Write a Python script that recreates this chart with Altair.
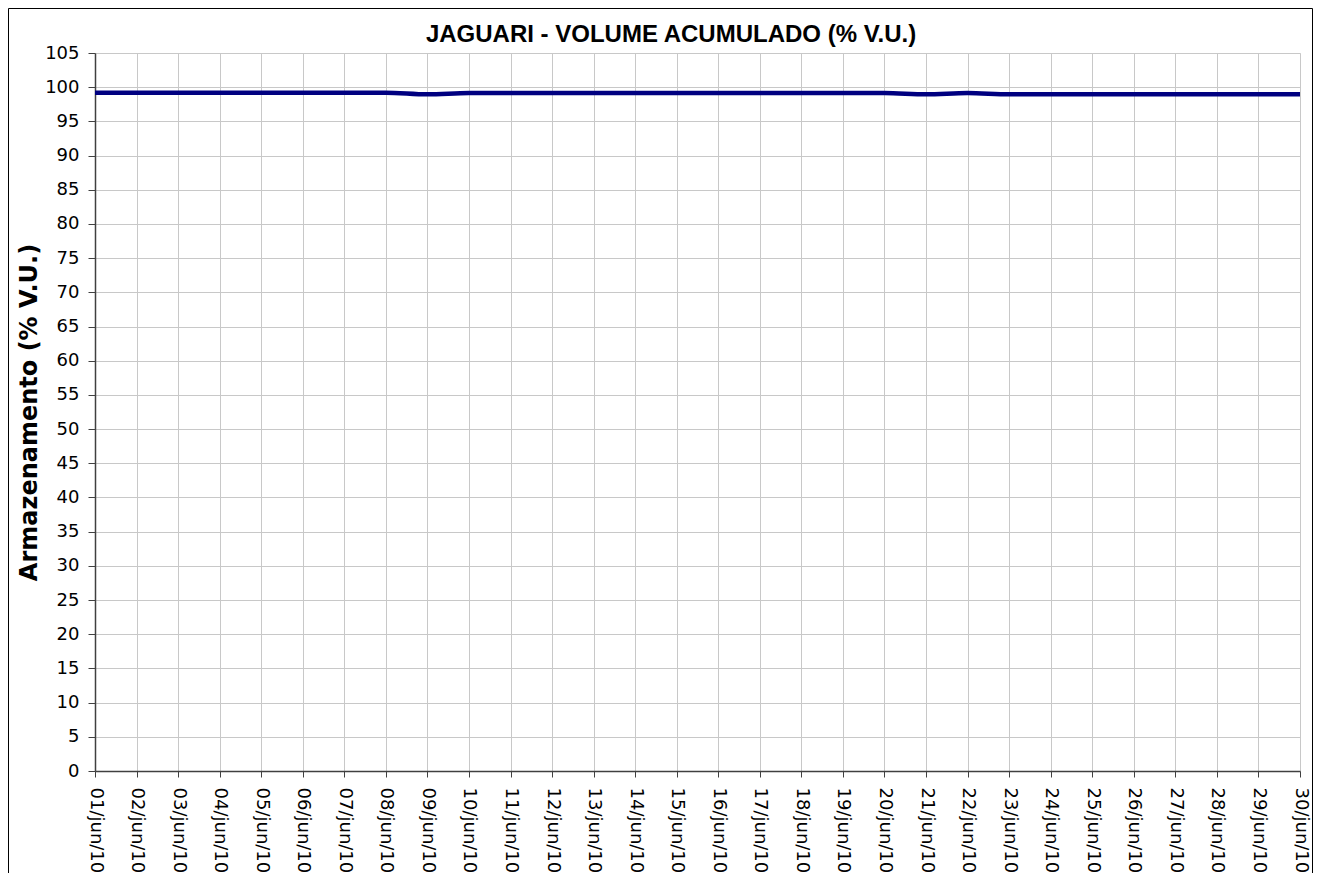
import altair as alt
import pandas as pd

days = [f"{d:02d}/jun/10" for d in range(1, 31)]
volume = [99.2, 99.2, 99.2, 99.2, 99.2, 99.2, 99.2, 99.2, 98.95, 99.15,
          99.15, 99.15, 99.15, 99.15, 99.15, 99.15, 99.15, 99.15, 99.15, 99.15,
          98.95, 99.15, 98.95, 98.95, 98.95, 98.95, 98.95, 98.95, 98.95, 98.95]
y_ticks = list(range(0, 106, 5))
title_text = "JAGUARI - VOLUME ACUMULADO (% V.U.)"

df = pd.DataFrame({"dia": days, "vol": volume})
one = pd.DataFrame({"t": [title_text]})

W, H = 1205, 718

line = alt.Chart(df).mark_line(color="#000080", strokeWidth=4.5, interpolate="monotone").encode(
    x=alt.X("dia:O", sort=days,
            scale=alt.Scale(type="point", padding=0),
            axis=alt.Axis(title=None, labelAngle=90, labelAlign="left", labelBaseline="middle",
                          labelPadding=10, tickSize=6, grid=True, gridColor="#c8c8c8",
                          domainColor="#404040", domainWidth=1.5, tickColor="#404040",
                          labelFont="DejaVu Sans", labelFontSize=18, labelColor="#000000")),
    y=alt.Y("vol:Q",
            scale=alt.Scale(domain=[0, 105], nice=False, zero=True),
            axis=alt.Axis(values=y_ticks, title="Armazenamento (% V.U.)",
                          titleFont="DejaVu Sans", titleFontSize=24, titleFontWeight="bold",
                          titleColor="#000000", titleAngle=-90, titleX=-59, titleY=H / 2,
                          titleAlign="center", titleBaseline="alphabetic",
                          labelPadding=9, tickSize=7, grid=True, gridColor="#c8c8c8",
                          domainColor="#404040", domainWidth=1.5, tickColor="#404040",
                          labelFont="DejaVu Sans", labelFontSize=18, labelColor="#000000")),
)

frame = alt.Chart(one).mark_rect(fill=None, stroke="#000000", strokeWidth=1, clip=False).encode(
    x=alt.value(-86.5), x2=alt.value(1217.5), y=alt.value(-44.5), y2=alt.value(900)
)

title = alt.Chart(one).mark_text(font="Liberation Sans", fontSize=24, fontWeight="bold",
                                 color="#000000", align="center", baseline="alphabetic",
                                 clip=False).encode(
    x=alt.value(576), y=alt.value(-11), text="t:N"
)

chart = alt.layer(frame, line, title).properties(
    width=W, height=H,
    padding={"left": 87, "top": 45, "right": 14, "bottom": 102},
    autosize=alt.AutoSizeParams(type="none"),
).configure_view(stroke="#808080", strokeWidth=1.5).configure(background="white")

chart.save("out.html", embed_options={"renderer": "svg", "actions": False})
